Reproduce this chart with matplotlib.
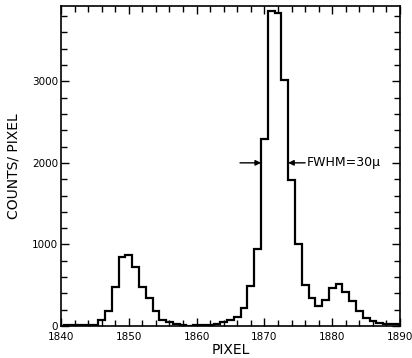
"""Pixel histogram of a spectral line profile with FWHM marker."""
import matplotlib

matplotlib.use("Agg")
import matplotlib.pyplot as plt
import numpy as np
from matplotlib.ticker import MultipleLocator

first_pixel = 1840
counts = [
    5, 8, 12, 15, 15, 20, 75, 182, 485, 850,  # 1840-1849
    875, 725, 485, 345, 180, 76, 45, 25, 12, 3,  # 1850-1859
    15, 20, 20, 25, 45, 75, 118, 220, 490, 940,  # 1860-1869
    2290, 3865, 3837, 3015, 1785, 1012, 500, 350, 245, 320,  # 1870-1879
    470, 510, 420, 305, 185, 100, 60, 33, 25, 25,  # 1880-1889
    22,  # 1890
]
x_ticks = [1840, 1850, 1860, 1870, 1880, 1890]
y_ticks = [0, 1000, 2000, 3000]
fwhm_label = "FWHM=30\u03bc"

plt.rcParams["font.family"] = ["DejaVu Sans"]

fig = plt.figure(figsize=(4.12, 3.58), dpi=100)
ax = fig.add_axes([0.148, 0.089, 0.823, 0.894])

edges = np.arange(len(counts) + 1) + first_pixel - 0.5
ax.stairs(counts, edges, color="black", linewidth=1.6, baseline=None)

ax.set_xlim(1840, 1890)
ax.set_ylim(0, 3920)
ax.set_xticks(x_ticks)
ax.set_yticks(y_ticks)
ax.xaxis.set_minor_locator(MultipleLocator(2))
ax.yaxis.set_minor_locator(MultipleLocator(200))
ax.tick_params(which="both", direction="in", top=True, right=True, labelsize=7.5, width=1)
ax.tick_params(which="major", length=6)
ax.tick_params(which="minor", length=4)
ax.tick_params(axis="x", which="major", pad=4)
ax.tick_params(axis="y", which="major", pad=2)
for spine in ax.spines.values():
    spine.set_linewidth(1.2)

ax.set_xlabel("PIXEL", fontsize=10, labelpad=1)
ax.set_ylabel("COUNTS/ PIXEL", fontsize=10, labelpad=8)

# FWHM arrows pointing at the edges of the main peak
arrow = dict(arrowstyle="-|>", color="black", lw=1, mutation_scale=8, shrinkA=0, shrinkB=0)
ax.annotate("", xy=(1869.5, 2000), xytext=(1866.4, 2000), arrowprops=arrow)
ax.annotate("", xy=(1873.5, 2000), xytext=(1876.0, 2000), arrowprops=arrow)
ax.text(1876.3, 2000, fwhm_label, fontsize=9, va="center", ha="left")

fig.savefig("out.png", dpi=100)
